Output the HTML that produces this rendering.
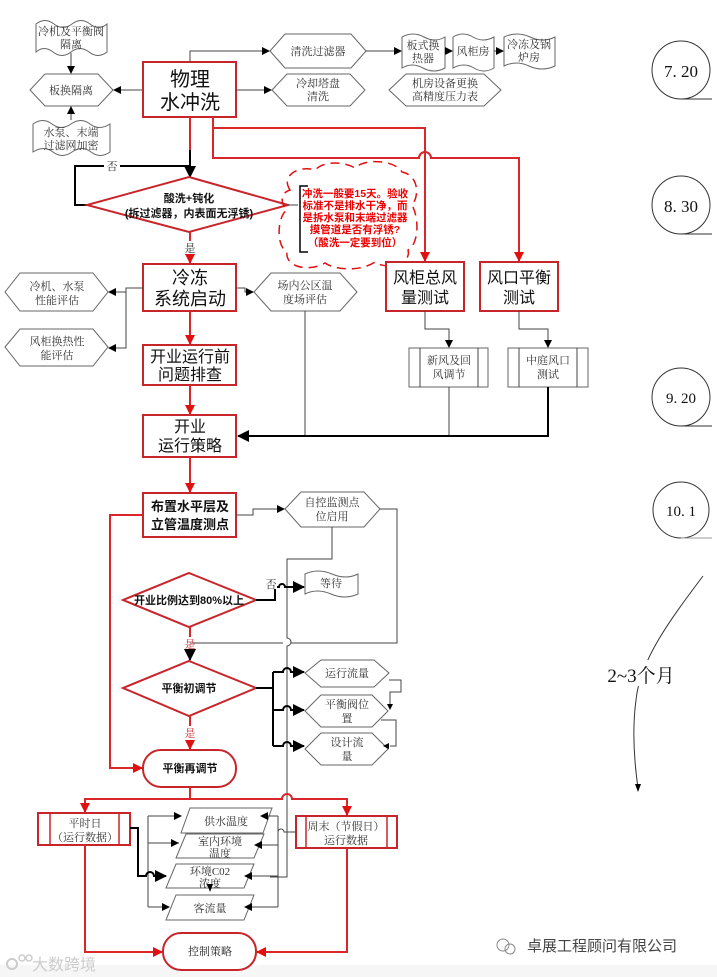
<!DOCTYPE html>
<html><head><meta charset="utf-8"><style>
html,body{margin:0;padding:0;background:#fff}
svg{display:block}
.g{font-family:"Liberation Serif","Noto Serif CJK SC",serif;fill:#333;font-size:11px;text-anchor:middle}
.b{font-family:"Liberation Sans","Noto Sans CJK SC",sans-serif;fill:#111;text-anchor:middle}
.bb{font-family:"Liberation Sans","Noto Sans CJK SC",sans-serif;fill:#111;text-anchor:middle;font-weight:bold;font-size:11px}
.r{font-family:"Liberation Sans","Noto Sans CJK SC",sans-serif;fill:#e00;font-weight:bold;font-size:10.5px;text-anchor:middle}
.sh{fill:#fff;stroke:#666;stroke-width:1}
.rb{fill:#fff;stroke:#c8252b;stroke-width:2}
.ln{fill:none;stroke:#444;stroke-width:1}
.lk{fill:none;stroke:#000;stroke-width:2}
.lr{fill:none;stroke:#d9262a;stroke-width:2}
</style></head><body>
<svg width="717" height="977" viewBox="0 0 717 977" xmlns="http://www.w3.org/2000/svg">
<defs>
<marker id="ak" markerWidth="8" markerHeight="8" refX="7" refY="4" orient="auto" markerUnits="userSpaceOnUse"><path d="M0,0 L8,4 L0,8 Z" fill="#000"/></marker>
<marker id="ar" markerWidth="10" markerHeight="10" refX="9" refY="5" orient="auto" markerUnits="userSpaceOnUse"><path d="M0,0 L10,5 L0,10 Z" fill="#e01010"/></marker>
<marker id="akb" markerWidth="12" markerHeight="12" refX="11" refY="6" orient="auto" markerUnits="userSpaceOnUse"><path d="M0,0 L12,6 L0,12 Z" fill="#000"/></marker>
</defs>
<rect x="0" y="965" width="717" height="12" fill="#f6f6f6"/>

<path class="sh" d="M36,24 q9,-7 18,0 t18,0 t18,0 t17,0 L107,52 q-9,7 -18,0 t-18,0 t-18,0 t-17,0 Z"/>
<text class="g" x="71" y="35">冷机及平衡阀</text><text class="g" x="71" y="48">隔离</text>
<path class="sh" d="M33,124 q10,-7 19,0 t19,0 t19,0 t20,0 L110,152 q-10,7 -19,0 t-19,0 t-19,0 t-20,0 Z"/>
<text class="g" x="71" y="136">水泵、末端</text><text class="g" x="71" y="149">过滤网加密</text>
<polygon class="sh" points="30,90 45,74 98,74 113,90 98,106 45,106"/>
<text class="g" x="71" y="94">板换隔离</text>
<path class="ln" d="M71,53 L71,73" marker-end="url(#ak)"/>
<path class="ln" d="M71,120 L71,107" marker-end="url(#ak)"/>
<path class="ln" d="M143,90 L114,90" marker-end="url(#ak)"/>

<rect class="rb" x="143" y="62" width="93" height="55"/>
<text class="b" x="190" y="86" font-size="20">物理</text>
<text class="b" x="190" y="109" font-size="20">水冲洗</text>

<polygon class="sh" points="270,51 285,34 351,34 366,51 351,68 285,68"/>
<text class="g" x="318" y="55">清洗过滤器</text>
<polygon class="sh" points="272,90 287,74 350,74 365,90 350,106 287,106"/>
<text class="g" x="318" y="87">冷却塔盘</text><text class="g" x="318" y="100">清洗</text>
<path class="ln" d="M190,62 L190,51 L269,51" marker-end="url(#ak)"/>
<path class="ln" d="M236,90 L271,90" marker-end="url(#ak)"/>
<path class="ln" d="M366,51 L401,51" marker-end="url(#ak)"/>

<path class="sh" d="M402,37 q11,-6 22,0 t21,0 L445,68 q-11,6 -22,0 t-21,0 Z"/>
<text class="g" x="423" y="49">板式换</text><text class="g" x="423" y="62">热器</text>
<path class="sh" d="M453,37 q10,-6 20,0 t21,0 L494,68 q-10,6 -20,0 t-21,0 Z"/>
<text class="g" x="473" y="55">风柜房</text>
<path class="sh" d="M504,37 q13,-6 26,0 t25,0 L555,66 q-13,6 -26,0 t-25,0 Z"/>
<text class="g" x="529" y="48">冷冻及锅</text><text class="g" x="529" y="61">炉房</text>
<path class="ln" d="M445,51 L452,51" marker-end="url(#ak)"/>
<path class="ln" d="M494,51 L503,51" marker-end="url(#ak)"/>
<polygon class="sh" points="389,90 406,74 484,74 501,90 484,106 406,106"/>
<text class="g" x="445" y="87">机房设备更换</text><text class="g" x="445" y="100">高精度压力表</text>

<path class="lr" d="M213,117 L213,158 L419,158 a6,6 0 0 1 12,0 L519,158 L519,261" marker-end="url(#ar)"/>
<path class="lr" d="M213,128 L425,128 L425,261" marker-end="url(#ar)"/>
<path class="lr" d="M190,117 L190,168"/>
<path class="lk" d="M190,150 L190,177" marker-end="url(#akb)"/>

<path class="lk" d="M87,205 L75,205 L75,166 L190,166"/>
<rect x="104" y="159" width="16" height="12" fill="#fff"/>
<text class="g" x="112" y="170" font-size="11">否</text>
<polygon class="rb" points="189,177 288,205 189,232 87,205"/>
<text class="bb" x="189" y="202" font-size="11.5">酸洗+钝化</text>
<text class="bb" x="189" y="217" font-size="11.5">(拆过滤器，内表面无浮锈)</text>
<path class="ln" d="M288,205 L298,205"/>
<text class="g" x="190" y="252" font-size="11">是</text>
<path class="lr" d="M190,232 L190,241"/>
<path class="lr" d="M190,255 L190,263" marker-end="url(#ar)"/>

<path d="M290,190 C280,175 300,165 315,170 C325,160 345,162 355,168 C365,158 395,160 402,172 C418,175 420,195 412,205 C420,220 418,245 408,250 C412,265 385,270 375,262 C360,272 335,270 325,263 C310,272 285,268 287,252 C275,245 278,215 287,210 C278,200 283,192 290,190 Z" fill="none" stroke="#e01010" stroke-width="1.5" stroke-dasharray="9,6"/>
<path d="M308,186 L300,186 L300,252 L308,252" fill="none" stroke="#000" stroke-width="1.5"/>
<text class="r" x="355" y="197">冲洗一般要15天。验收</text>
<text class="r" x="355" y="209">标准不是排水干净，而</text>
<text class="r" x="355" y="221">是拆水泵和末端过滤器</text>
<text class="r" x="355" y="233">摸管道是否有浮锈?</text>
<text class="r" x="355" y="246">（酸洗一定要到位）</text>

<rect class="rb" x="143" y="264" width="93" height="47"/>
<text class="b" x="190" y="284" font-size="18">冷冻</text>
<text class="b" x="190" y="305" font-size="18">系统启动</text>
<polygon class="sh" points="5,292 20,273 93,273 108,292 93,311 20,311"/>
<text class="g" x="57" y="290">冷机、水泵</text><text class="g" x="57" y="304">性能评估</text>
<polygon class="sh" points="5,347 20,329 93,329 108,347 93,366 20,366"/>
<text class="g" x="57" y="345">风柜换热性</text><text class="g" x="57" y="359">能评估</text>
<path class="ln" d="M143,288 L126,288 L126,348 L109,348" marker-end="url(#ak)"/>
<path class="ln" d="M126,292 L109,292" marker-end="url(#ak)"/>
<polygon class="sh" points="254,292 271,273 340,273 357,292 340,311 271,311"/>
<text class="g" x="305" y="289">场内公区温</text><text class="g" x="305" y="303">度场评估</text>
<path class="ln" d="M236,288 L245,288 L245,292 L253,292" marker-end="url(#ak)"/>
<path class="ln" d="M305,311 L305,436"/>

<rect class="rb" x="386" y="262" width="78" height="49"/>
<text class="b" x="425" y="283" font-size="16">风柜总风</text>
<text class="b" x="425" y="303" font-size="16">量测试</text>
<rect class="rb" x="480" y="262" width="78" height="49"/>
<text class="b" x="519" y="283" font-size="16">风口平衡</text>
<text class="b" x="519" y="303" font-size="16">测试</text>
<path class="ln" d="M425,311 L425,329 L449,329 L449,347" marker-end="url(#ak)"/>
<path class="ln" d="M519,311 L519,329 L548,329 L548,347" marker-end="url(#ak)"/>
<rect class="sh" x="409" y="348" width="79" height="39"/><path class="ln" d="M420,348 V387 M478,348 V387"/>
<text class="g" x="449" y="364">新风及回</text><text class="g" x="449" y="378">风调节</text>
<rect class="sh" x="508" y="348" width="80" height="39"/><path class="ln" d="M519,348 V387 M577,348 V387"/>
<text class="g" x="548" y="364">中庭风口</text><text class="g" x="548" y="378">测试</text>
<path class="ln" d="M449,387 L449,436"/>
<path class="lk" d="M548,387 L548,436 L238,436" marker-end="url(#akb)"/>

<rect class="rb" x="143" y="345" width="93" height="40"/>
<text class="b" x="190" y="362" font-size="16">开业运行前</text>
<text class="b" x="190" y="380" font-size="16">问题排查</text>
<path class="lr" d="M190,311 L190,344" marker-end="url(#ar)"/>
<rect class="rb" x="143" y="415" width="93" height="42"/>
<text class="b" x="190" y="432" font-size="16">开业</text>
<text class="b" x="190" y="451" font-size="16">运行策略</text>
<path class="lr" d="M190,385 L190,414" marker-end="url(#ar)"/>
<path class="lr" d="M190,457 L190,492" marker-end="url(#ar)"/>

<g fill="none" stroke="#333" stroke-width="1">
<circle cx="681" cy="70" r="29"/><path d="M681,99 L712,99"/>
<circle cx="681" cy="205" r="29"/><path d="M681,234 L712,234"/>
<circle cx="681" cy="397" r="29"/><path d="M681,426 L712,426"/>
<circle cx="681" cy="510" r="28"/><path d="M681,538 L712,538" stroke="#999"/>
</g>
<text class="b" x="681" y="77" font-size="17" style="font-family:'Liberation Serif',serif">7. 20</text>
<text class="b" x="681" y="212" font-size="17" style="font-family:'Liberation Serif',serif">8. 30</text>
<text class="b" x="681" y="403" font-size="15" style="font-family:'Liberation Serif',serif">9. 20</text>
<text class="b" x="681" y="516" font-size="15" style="font-family:'Liberation Serif',serif">10. 1</text>
<path d="M703,576 C670,620 640,660 636,700 C632,730 634,760 638,788" fill="none" stroke="#333" stroke-width="1"/>
<rect x="600" y="660" width="82" height="26" fill="#fff"/>
<path d="M635,784 L641,784 L638,792 Z" fill="#000"/>
<text x="641" y="682" font-size="19" text-anchor="middle" style="font-family:'Liberation Serif','Noto Serif CJK SC',serif" fill="#111">2~3个月</text>

<rect class="rb" x="143" y="493" width="93" height="44"/>
<text class="b" x="190" y="511" font-size="13" font-weight="bold">布置水平层及</text>
<text class="b" x="190" y="529" font-size="13" font-weight="bold">立管温度测点</text>
<polygon class="sh" points="285,509 301,492 364,492 380,509 364,527 301,527"/>
<text class="g" x="332" y="506">自控监测点</text><text class="g" x="332" y="520">位启用</text>
<path class="ln" d="M236,515 L253,515 L253,509 L284,509" marker-end="url(#ak)"/>
<path class="ln" d="M332,527 L332,559 L287,559 L287,638 a4,4 0 0 1 0,8 L287,877 L270,877"/>
<path class="ln" d="M380,509 L397,509 L397,643 L291,643 M283,643 L190,643"/>

<polygon class="rb" points="189,573 256,600 189,627 123,600"/>
<text class="bb" x="189" y="604">开业比例达到80%以上</text>
<path class="lk" d="M256,600 L275,600 L275,587 L279,587 a3,3 0 0 1 6,0 L304,587" marker-end="url(#akb)" stroke-width="1.5"/>
<rect x="265" y="577" width="12" height="12" fill="#fff"/>
<text class="g" x="271" y="588">否</text>
<path class="sh" d="M305,574 q13,-6 27,0 t26,0 L358,594 q-13,6 -27,0 t-26,0 Z"/>
<text class="g" x="331" y="587">等待</text>

<text class="g" x="190" y="648" style="fill:#c33">是</text>
<path class="lr" d="M190,627 L190,637"/>
<path class="lk" d="M190,650 L190,660" marker-end="url(#akb)" stroke-width="1.5"/>
<polygon class="rb" points="189,661 256,688 189,716 123,688"/>
<text class="bb" x="189" y="692">平衡初调节</text>
<path class="lk" d="M256,688 L273,688 M273,672 L273,746" stroke-width="1.5"/>
<path class="lk" stroke-width="1.5" d="M273,672 L283,672 a4,4 0 0 1 8,0 L304,672" marker-end="url(#akb)"/>
<path class="lk" stroke-width="1.5" d="M273,710 L283,710 a4,4 0 0 1 8,0 L304,710" marker-end="url(#akb)"/>
<path class="lk" stroke-width="1.5" d="M273,746 L283,746 a4,4 0 0 1 8,0 L304,746" marker-end="url(#akb)"/>
<polygon class="sh" points="305,673 321,660 374,660 389,673 374,687 321,687"/>
<text class="g" x="347" y="677">运行流量</text>
<polygon class="sh" points="305,711 321,695 372,695 388,711 372,727 321,727"/>
<text class="g" x="347" y="708">平衡阀位</text><text class="g" x="347" y="722">置</text>
<polygon class="sh" points="305,749 321,733 372,733 388,749 372,765 321,765"/>
<text class="g" x="347" y="746">设计流</text><text class="g" x="347" y="760">量</text>
<path class="ln" d="M389,680 L401,680 L401,692 L390,692 L390,706"/>
<path class="ln" d="M381,720 L396,720 L396,746 L390,746"/>
<path d="M387,704 L393,704 L390,710 Z M389,743 L389,749 L383,746 Z" fill="#000"/>

<text class="g" x="190" y="737" style="fill:#c33">是</text>
<path class="lr" d="M190,716 L190,726"/>
<path class="lr" d="M190,740 L190,749" marker-end="url(#ar)"/>
<rect class="rb" x="143" y="750" width="93" height="37" rx="18" ry="18"/>
<text class="bb" x="190" y="772">平衡再调节</text>
<path class="lr" d="M143,515 L110,515 L110,768 L142,768" marker-end="url(#ar)"/>

<path class="lr" d="M190,787 L190,799"/>
<path class="lr" d="M85,812 L85,799 L282,799 a5,5 0 0 1 10,0 L347,799 L347,815" marker-end="url(#ar)"/>
<path class="lr" d="M85,799 L85,812" marker-end="url(#ar)"/>
<rect class="rb" x="38" y="813" width="92" height="32" stroke-width="1.5"/>
<path d="M50,813 V845 M119,813 V845" stroke="#c8252b" stroke-width="1.5"/>
<text class="g" x="85" y="827" font-size="12">平时日</text><text class="g" x="85" y="841" font-size="12">（运行数据）</text>
<rect class="rb" x="296" y="816" width="101" height="32" stroke-width="1.5"/>
<path d="M306,816 V848 M387,816 V848" stroke="#c8252b" stroke-width="1.5"/>
<text class="g" x="346" y="830" font-size="12">周末（节假日）</text><text class="g" x="346" y="844" font-size="12">运行数据</text>

<polygon class="sh" points="190,808 272,808 263,833 181,833"/>
<text class="g" x="226" y="825" font-size="12">供水温度</text>
<polygon class="sh" points="186,834 264,834 254,858 176,858"/>
<text class="g" x="220" y="845" font-size="12">室内环境</text><text class="g" x="220" y="857" font-size="12">温度</text>
<polygon class="sh" points="176,864 254,864 244,888 166,888"/>
<text class="g" x="210" y="875" font-size="12">环境C02</text><text class="g" x="210" y="887" font-size="12">浓度</text>
<polygon class="sh" points="176,895 254,895 244,920 166,920"/>
<text class="g" x="210" y="912" font-size="12">客流量</text>

<path class="ln" d="M148,816 L148,907 M148,816 L180,816 M148,843 L179,843 M148,907 L169,907" />
<path d="M174,812 L182,816 L174,820 Z M171,839 L179,843 L171,847 Z M162,903 L170,907 L162,911 Z" fill="#000"/>
<path class="lk" stroke-width="1.5" d="M130,828 L138,828 L138,876 L146,876 a4,4 0 0 1 8,0 L166,876" marker-end="url(#akb)"/>
<path class="ln" d="M296,832 L284,832 a3,3 0 0 0 -6,0 M278,816 L278,907 M278,816 L266,816 M278,845 L258,845 M278,876 L248,876 M278,907 L248,907"/>
<path d="M268,812 L260,816 L268,820 Z M262,841 L254,845 L262,849 Z M252,872 L244,876 L252,880 Z M252,903 L244,907 L252,911 Z" fill="#000"/>
<path d="M207,884 L213,884 L210,892 Z" fill="#000"/>

<path class="lr" d="M85,845 L85,952 L162,952" marker-end="url(#ar)"/>
<path class="lr" d="M347,848 L347,952 L257,952" marker-end="url(#ar)"/>
<rect class="rb" x="163" y="933" width="93" height="37" rx="18" ry="18"/>
<text class="g" x="210" y="955" font-size="12" style="fill:#222">控制策略</text>

<text x="32" y="970" font-size="16" fill="#ccc" style="font-family:'Liberation Sans','Noto Sans CJK SC',sans-serif">大数跨境</text>
<circle cx="12" cy="964" r="5" fill="none" stroke="#ccc" stroke-width="2"/>
<circle cx="22" cy="958" r="3" fill="none" stroke="#ccc" stroke-width="1.5"/>
<circle cx="29" cy="958" r="3" fill="none" stroke="#ccc" stroke-width="1.5"/>
<circle cx="503" cy="945" r="6" fill="none" stroke="#888" stroke-width="1"/>
<circle cx="510" cy="949" r="5" fill="none" stroke="#888" stroke-width="1"/>
<text x="527" y="951" font-size="15" fill="#444" style="font-family:'Liberation Sans','Noto Sans CJK SC',sans-serif">卓展工程顾问有限公司</text>
</svg>
</body></html>
